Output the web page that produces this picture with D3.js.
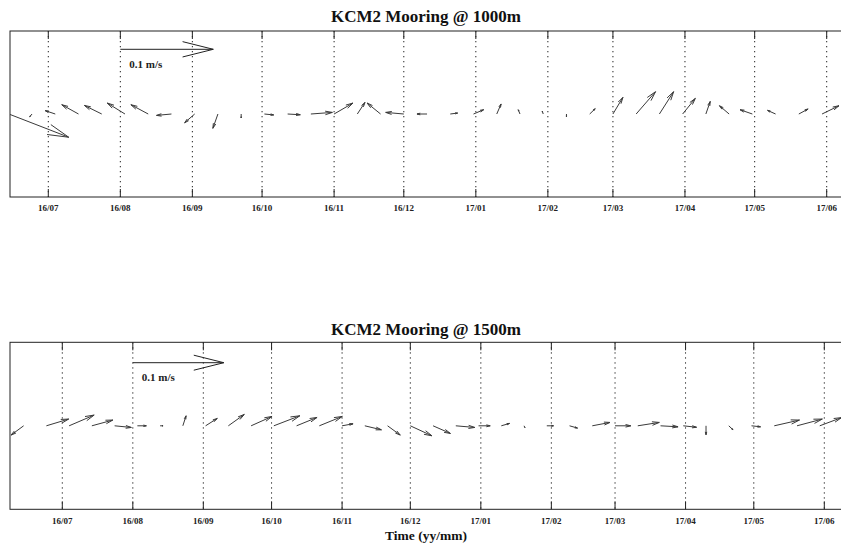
<!DOCTYPE html>
<html><head><meta charset="utf-8">
<script src="https://cdn.jsdelivr.net/npm/d3@7"></script>
<style>html,body{margin:0;padding:0;background:#fff;}svg{display:block;}</style>
</head><body>
<svg id="chart" width="841" height="548"></svg>
<script>
// ---------------- data ----------------
const sampleDates = ["2016-06-14","2016-06-24","2016-07-04","2016-07-14","2016-07-24","2016-08-03","2016-08-13","2016-08-23","2016-09-02","2016-09-12","2016-09-22","2016-10-02","2016-10-12","2016-10-22","2016-11-01","2016-11-11","2016-11-21","2016-12-01","2016-12-11","2016-12-21","2016-12-31","2017-01-10","2017-01-20","2017-01-30","2017-02-09","2017-02-19","2017-03-01","2017-03-11","2017-03-21","2017-03-31","2017-04-10","2017-04-20","2017-04-30","2017-05-10","2017-05-20","2017-05-30"];
// 1000 m  (east u, north v, m/s)
const u1000 = [0.0645,-0.0025,-0.0108,-0.018,-0.0186,-0.019,-0.0186,-0.016,-0.0108,-0.0054,0,0.010,0.0137,0.0232,0.0204,0.0083,-0.0144,-0.0194,-0.0108,0.008,0.011,0.0047,-0.0018,-0.001,0,0.006,0.0108,0.0209,0.0154,0.0137,0.0047,-0.0104,-0.0132,-0.0086,0.010,0.0183];
const v1000 = [-0.025,-0.003,0.0036,0.010,0.0092,0.0118,0.010,-0.0015,-0.0094,-0.0154,-0.0043,-0.001,-0.0008,0.0017,0.0118,0.0125,0.0118,0.0017,0,0.001,0.0046,0.0108,0.0046,0.003,-0.003,0.0057,0.0179,0.024,0.024,0.0168,0.0135,0.0089,0.0046,0.0039,0.0054,0.0089];
// 1500 m
const u1500 = [-0.0138,0.0245,0.0275,0.0231,0.0184,0.0099,0.0033,0.0036,0.0129,0.0176,0.0231,0.0286,0.0226,0.0253,0.0121,0.0183,0.014,0.0238,0.0191,0.0209,0.0129,0.0091,0.001,0.0074,0.0088,0.0195,0.0173,0.0237,0.0193,0.0146,0,0.0047,0.0099,0.0278,0.0279,0.024];
const v1500 = [-0.0102,0.0074,0.0118,0.0063,-0.0018,0,0,0.011,0.0081,0.0125,0.0103,0.011,0.0092,0.0103,0.0022,-0.0044,-0.0102,-0.011,-0.0084,-0.0018,0,0.0026,-0.002,0,-0.0025,0.0037,0,0.0037,-0.0011,-0.0016,-0.0099,-0.0044,-0.0011,0.0063,0.0074,0.009];
const monthTicks = ["2016-07-01","2016-08-01","2016-09-01","2016-10-01","2016-11-01","2016-12-01","2017-01-01","2017-02-01","2017-03-01","2017-04-01","2017-05-01","2017-06-01"];
const tickLabels = ["16/07","16/08","16/09","16/10","16/11","16/12","17/01","17/02","17/03","17/04","17/05","17/06"];
const titles = ["KCM2 Mooring @ 1000m","KCM2 Mooring @ 1500m"];
const refSpeed = 0.1, refLabel = "0.1 m/s", refDate = "2016-08-01";
const daysPerMps = 400;   // 0.1 m/s drawn as 40 days of time axis
const xLabel = "Time (yy/mm)";

// ---------------- drawing ----------------
const parse = d3.timeParse("%Y-%m-%d");
const svg = d3.select("#chart");
const serif = "'Liberation Serif','Times New Roman',serif";
const ink = "#222", arrowInk = "#3a3a3a";

const panels = [
  {title: titles[0], u: u1000, v: v1000, top: 31, bottom: 197, left: 10, right: 846,
   x0: 48.3, x1: 826.7, titleY: 21.7, tickY: 211, refY: 49.3},
  {title: titles[1], u: u1500, v: v1500, top: 342.3, bottom: 509.3, left: 10, right: 846,
   x0: 62.3, x1: 824.3, titleY: 335, tickY: 524, refY: 362.7}
];

function arrowPath(x, y, dx, dy) {
  // MATLAB-quiver-like arrow: shaft + two head strokes
  const alpha = 0.33, beta = 0.25;
  const tx = x + dx, ty = y + dy;
  const hx1 = tx - alpha * (dx + beta * dy), hy1 = ty - alpha * (dy - beta * dx);
  const hx2 = tx - alpha * (dx - beta * dy), hy2 = ty - alpha * (dy + beta * dx);
  return `M${x},${y}L${tx},${ty}M${hx1},${hy1}L${tx},${ty}L${hx2},${hy2}`;
}

panels.forEach((p, pi) => {
  const x = d3.scaleTime()
    .domain([parse(monthTicks[0]), parse(monthTicks[monthTicks.length - 1])])
    .range([p.x0, p.x1]);
  const ref = parse(refDate);
  const k = x(d3.timeDay.offset(ref, daysPerMps)) - x(ref); // px per m/s
  const mid = (p.top + p.bottom) / 2;
  const y = d3.scaleLinear()
    .domain([-(p.bottom - mid) / k, (mid - p.top) / k])
    .range([p.bottom, p.top]);

  const g = svg.append("g");
  const clipId = "clip" + pi;
  svg.append("clipPath").attr("id", clipId).append("rect")
    .attr("x", p.left).attr("y", p.top).attr("width", p.right - p.left).attr("height", p.bottom - p.top);

  // grid lines (dotted)
  const ticks = monthTicks.map(parse);
  g.selectAll(".grid").data(ticks).join("line")
    .attr("x1", d => x(d)).attr("x2", d => x(d))
    .attr("y1", p.top).attr("y2", p.bottom)
    .attr("stroke", ink).attr("stroke-width", 1)
    .attr("stroke-dasharray", "1.3,3.7");

  // tick marks (inside, top & bottom)
  g.selectAll(".tb").data(ticks).join("line")
    .attr("x1", d => x(d)).attr("x2", d => x(d))
    .attr("y1", p.bottom).attr("y2", p.bottom - 8)
    .attr("stroke", ink).attr("stroke-width", 1);
  g.selectAll(".tt").data(ticks).join("line")
    .attr("x1", d => x(d)).attr("x2", d => x(d))
    .attr("y1", p.top).attr("y2", p.top + 8)
    .attr("stroke", ink).attr("stroke-width", 1);

  // tick labels
  g.selectAll(".tl").data(ticks).join("text")
    .attr("x", d => x(d)).attr("y", p.tickY)
    .attr("text-anchor", "middle")
    .attr("font-family", serif).attr("font-size", 9).attr("font-weight", "bold")
    .attr("fill", ink)
    .text((d, i) => tickLabels[i]);

  // frame
  g.append("rect")
    .attr("x", p.left).attr("y", p.top)
    .attr("width", p.right - p.left).attr("height", p.bottom - p.top)
    .attr("fill", "none").attr("stroke", ink).attr("stroke-width", 1);

  // stick arrows
  const data = sampleDates.map((d, i) => ({t: parse(d), u: p.u[i], v: p.v[i]}));
  g.append("g").attr("clip-path", `url(#${clipId})`)
    .selectAll("path").data(data).join("path")
    .attr("d", d => {
      const x0 = x(d.t), y0 = y(0);
      const dx = x(d3.timeHour.offset(d.t, d.u * daysPerMps * 24)) - x0;
      const dy = y(d.v) - y0;
      return arrowPath(x0, y0, dx, dy);
    })
    .attr("fill", "none").attr("stroke", arrowInk).attr("stroke-width", 1);

  // reference arrow
  const rx0 = x(ref);
  const rdx = x(d3.timeDay.offset(ref, refSpeed * daysPerMps)) - rx0;
  g.append("path").attr("d", arrowPath(rx0, p.refY, rdx, 0))
    .attr("fill", "none").attr("stroke", ink).attr("stroke-width", 1);
  g.append("text")
    .attr("x", rx0 + 9).attr("y", p.refY + 18.5)
    .attr("font-family", serif).attr("font-size", 11).attr("font-weight", "bold")
    .attr("fill", ink).text(refLabel);

  // title
  svg.append("text")
    .attr("x", 426).attr("y", p.titleY)
    .attr("text-anchor", "middle")
    .attr("font-family", serif).attr("font-size", 17).attr("font-weight", "bold")
    .attr("fill", "#111").text(p.title);
});

svg.append("text")
  .attr("x", 426).attr("y", 540)
  .attr("text-anchor", "middle")
  .attr("font-family", serif).attr("font-size", 13.5).attr("font-weight", "bold")
  .attr("fill", "#111").text(xLabel);
</script>
</body></html>
